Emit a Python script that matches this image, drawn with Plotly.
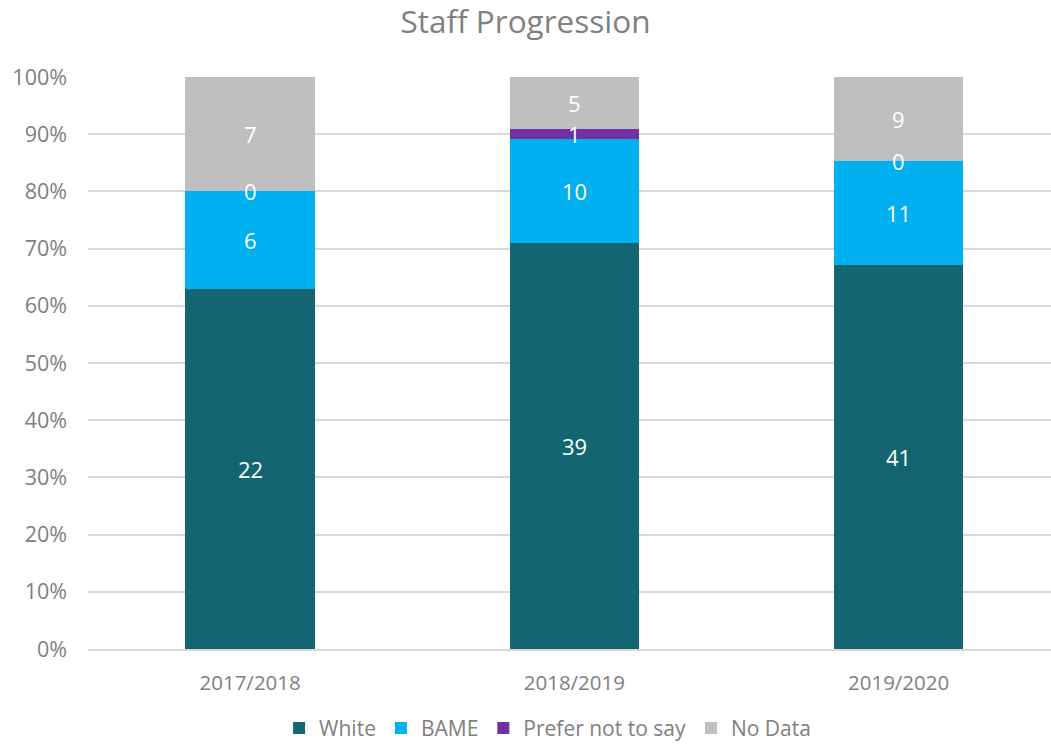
import plotly.graph_objects as go

years = ["2017/2018", "2018/2019", "2019/2020"]
series_names = ["White", "BAME", "Prefer not to say", "No Data"]
white = [22, 39, 41]
bame = [6, 10, 11]
prefer = [0, 1, 0]
nodata = [7, 5, 9]
colors = ["#136572", "#00B0F0", "#7030A0", "#BFBFBF"]

all_series = [white, bame, prefer, nodata]
totals = [sum(s[i] for s in all_series) for i in range(len(years))]

font_family = "Open Sans, Noto Sans, sans-serif"
fig = go.Figure()
for name, vals, col in zip(series_names, all_series, colors):
    fig.add_trace(go.Bar(
        x=years, y=[v / t * 100 for v, t in zip(vals, totals)], name=name,
        marker=dict(color=col, line=dict(width=0)),
        textposition="none", hoverinfo="name+y",
    ))

annotations = []
for i, yr in enumerate(years):
    cum = 0.0
    for vals in all_series:
        pct = vals[i] / totals[i] * 100
        annotations.append(dict(
            x=yr, y=cum + pct / 2, xref="x", yref="y", text=str(vals[i]),
            showarrow=False, font=dict(color="white", size=22, family=font_family),
        ))
        cum += pct

fig.update_layout(
    barmode="stack", bargap=0.6,
    width=1051, height=744,
    margin=dict(l=88, r=0, t=77, b=95),
    paper_bgcolor="white", plot_bgcolor="white",
    title=dict(text="Staff Progression", x=0.5, xanchor="center", y=0.97, yanchor="middle",
               font=dict(size=31.5, color="#808080", family=font_family)),
    font=dict(family=font_family, color="#808080"),
    yaxis=dict(range=[0, 100], dtick=10, ticksuffix="%", showgrid=True,
               gridcolor="#D9D9D9", gridwidth=1.5, zeroline=False, automargin=False,
               tickfont=dict(size=21.5, color="#808080"), ticklen=0, ticks="",
               ticklabelstandoff=20),
    xaxis=dict(showline=True, linecolor="#D9D9D9", linewidth=1.5, automargin=False,
               range=[-0.5, 2.47],
               tickfont=dict(size=20.5, color="#808080"), ticks="",
               ticklabelstandoff=15),
    legend=dict(orientation="h", xref="container", x=0.521, xanchor="center",
                yref="container", y=0.021, yanchor="middle",
                font=dict(size=21, color="#808080"), traceorder="normal",
                itemwidth=30),
    annotations=annotations,
)

fig.write_html("out.html", config={"displayModeBar": False},
               post_script="document.body.style.margin='0px';")
